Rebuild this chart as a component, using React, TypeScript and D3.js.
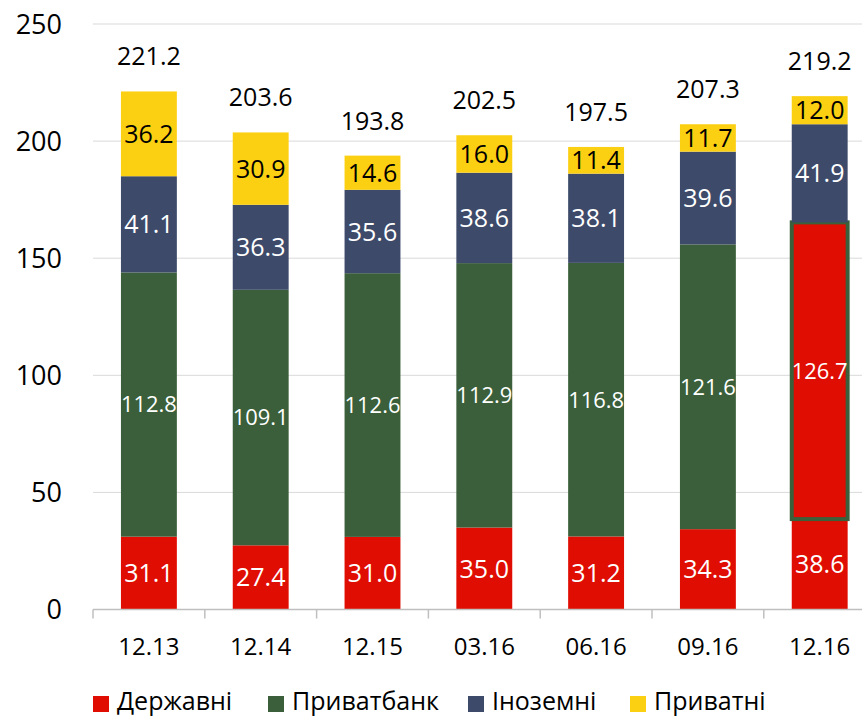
import React, { useEffect, useRef } from "react";
import * as d3 from "d3";

const categories = ["12.13", "12.14", "12.15", "03.16", "06.16", "09.16", "12.16"];
const derzhavni = [31.1, 27.4, 31.0, 35.0, 31.2, 34.3, 38.6];
const pryvatbank = [112.8, 109.1, 112.6, 112.9, 116.8, 121.6, 126.7];
const inozemni = [41.1, 36.3, 35.6, 38.6, 38.1, 39.6, 41.9];
const pryvatni = [36.2, 30.9, 14.6, 16.0, 11.4, 11.7, 12.0];
const totals = ["221.2", "203.6", "193.8", "202.5", "197.5", "207.3", "219.2"];
const yTicks = [0, 50, 100, 150, 200, 250];

const seriesNames = ["Державні", "Приватбанк", "Іноземні", "Приватні"];
const seriesColors = ["#E00D02", "#3A5F3A", "#3D4A6A", "#FCD012"];
const labelColors = ["#fff", "#fff", "#fff", "#000"];

const FONT = "'Open Sans', 'Noto Sans', sans-serif";

export default function App() {
  const ref = useRef<SVGSVGElement>(null);

  useEffect(() => {
    const width = 862;
    const height = 717;
    const svg = d3.select(ref.current);
    svg.selectAll("*").remove();

    const x = d3
      .scaleBand()
      .domain(categories)
      .range([93, 875.6])
      .paddingInner(0.5)
      .paddingOuter(0.25);
    const step = x.step();

    const y = d3.scaleLinear().domain([0, 250]).range([609.5, 24]);

    // gridlines
    svg
      .append("g")
      .selectAll("line")
      .data(yTicks.filter((d) => d > 0))
      .join("line")
      .attr("x1", 93)
      .attr("x2", width)
      .attr("y1", (d) => y(d))
      .attr("y2", (d) => y(d))
      .attr("stroke", "#D9D9D9")
      .attr("stroke-width", 1);

    // y labels
    svg
      .append("g")
      .selectAll("text")
      .data(yTicks)
      .join("text")
      .attr("x", 62)
      .attr("y", (d) => y(d))
      .attr("dy", "0.36em")
      .attr("text-anchor", "end")
      .attr("font-family", FONT)
      .attr("font-size", 27)
      .attr("fill", "#000")
      .text((d) => d);

    // stacked data
    const rows = categories.map((c, i) => ({
      cat: c,
      s0: derzhavni[i],
      s1: pryvatbank[i],
      s2: inozemni[i],
      s3: pryvatni[i],
    }));
    const stack = d3.stack<any>().keys(["s0", "s1", "s2", "s3"]);
    const layers = stack(rows);

    const bw = x.bandwidth();
    const lastCat = categories[categories.length - 1];

    layers.forEach((layer, li) => {
      const g = svg.append("g");
      g.selectAll("rect")
        .data(layer)
        .join("rect")
        .attr("x", (d) => x(d.data.cat)!)
        .attr("y", (d) => y(d[1]))
        .attr("width", bw)
        .attr("height", (d) => y(d[0]) - y(d[1]))
        .attr("fill", (d) =>
          li === 1 && d.data.cat === lastCat ? seriesColors[0] : seriesColors[li]
        )
        .attr("stroke", (d) => (li === 1 && d.data.cat === lastCat ? "#3A5F3A" : "none"))
        .attr("stroke-width", 4);
    });

    // segment labels
    layers.forEach((layer, li) => {
      svg
        .append("g")
        .selectAll("text")
        .data(layer)
        .join("text")
        .attr("x", (d) => x(d.data.cat)! + bw / 2)
        .attr("y", (d) => (y(d[0]) + y(d[1])) / 2)
        .attr("dy", "0.36em")
        .attr("text-anchor", "middle")
        .attr("font-family", FONT)
        .attr("font-size", li === 1 ? 22 : 25)
        .attr("fill", labelColors[li])
        .each(function (d) {
          const t = d3.select(this);
          t.text((d[1] - d[0]).toFixed(1));
          if (li === 1) {
            t.attr("textLength", bw).attr("lengthAdjust", "spacingAndGlyphs");
          }
        });
    });

    // total labels
    svg
      .append("g")
      .selectAll("text")
      .data(rows)
      .join("text")
      .attr("x", (d) => x(d.cat)! + bw / 2)
      .attr("y", (d) => y(d.s0 + d.s1 + d.s2 + d.s3) - 26)
      .attr("text-anchor", "middle")
      .attr("font-family", FONT)
      .attr("font-size", 25)
      .attr("fill", "#000")
      .text((d, i) => totals[i]);

    // x axis
    const axis = svg.append("g");
    axis
      .append("line")
      .attr("x1", 93)
      .attr("x2", width)
      .attr("y1", y(0))
      .attr("y2", y(0))
      .attr("stroke", "#BFBFBF")
      .attr("stroke-width", 1.5);
    axis
      .selectAll("line.tick")
      .data(d3.range(categories.length + 1))
      .join("line")
      .attr("class", "tick")
      .attr("x1", (i) => 93 + i * step)
      .attr("x2", (i) => 93 + i * step)
      .attr("y1", y(0))
      .attr("y2", y(0) + 9)
      .attr("stroke", "#BFBFBF")
      .attr("stroke-width", 1.5);
    axis
      .selectAll("text")
      .data(categories)
      .join("text")
      .attr("x", (d) => x(d)! + bw / 2)
      .attr("y", 655)
      .attr("text-anchor", "middle")
      .attr("font-family", FONT)
      .attr("font-size", 24)
      .attr("fill", "#000")
      .text((d) => d);

    // legend
    const legendX = [93, 268, 468, 630];
    const legend = svg
      .append("g")
      .selectAll("g")
      .data(seriesNames)
      .join("g")
      .attr("transform", (d, i) => `translate(${legendX[i]},0)`);
    legend
      .append("rect")
      .attr("x", 0)
      .attr("y", 696)
      .attr("width", 16)
      .attr("height", 16)
      .attr("fill", (d, i) => seriesColors[i]);
    legend
      .append("text")
      .attr("x", 24)
      .attr("y", 710)
      .attr("font-family", FONT)
      .attr("font-size", 25)
      .attr("fill", "#000")
      .text((d) => d);

    svg.attr("viewBox", [0, 0, width, height]);
  }, []);

  return (
    <svg
      ref={ref}
      width={862}
      height={717}
      style={{ position: "absolute", left: 0, top: 0, display: "block", background: "#fff" }}
    />
  );
}
